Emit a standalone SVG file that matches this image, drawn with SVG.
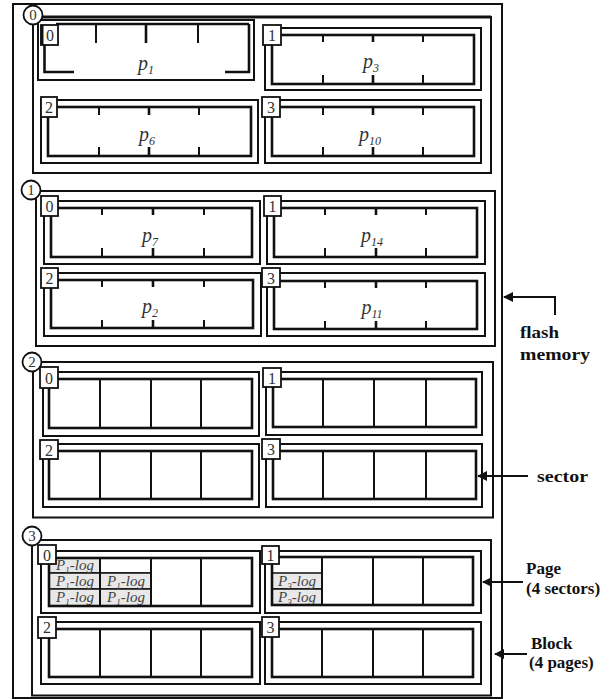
<svg xmlns="http://www.w3.org/2000/svg" width="611" height="699" viewBox="0 0 611 699">
<defs>
<style>
.frm{fill:none;stroke:#111;stroke-width:2}
.blk{fill:none;stroke:#111;stroke-width:2}
.po{fill:none;stroke:#111;stroke-width:2}
.pi{fill:none;stroke:#111;stroke-width:2.6}
.tk{stroke:#111;stroke-width:2}
.tm{stroke:#111;stroke-width:2.6}
.lb{fill:#fff;stroke:#111;stroke-width:1.8}
.cc{fill:#fff;stroke:#111;stroke-width:1.8}
.lt{font-family:'Liberation Serif',serif;font-size:16px;fill:#333;text-anchor:middle}
.ct{font-family:'Liberation Serif',serif;font-size:15px;fill:#333;text-anchor:middle}
.pt{font-family:'Liberation Serif',serif;font-style:italic;font-size:20px;fill:#333;text-anchor:middle}
.sb{font-size:12px}
.log{fill:#e8e8e8;stroke:#111;stroke-width:1.5}
.wc{fill:#fff;stroke:#111;stroke-width:1.5}
.lg{font-family:'Liberation Serif',serif;font-style:italic;font-size:15px;fill:#444;text-anchor:middle}
.ls{font-size:9px}
.rl{font-family:'Liberation Serif',serif;font-weight:bold;font-size:17px;fill:#111}
.ar{stroke:#111;stroke-width:2;fill:none;marker-end:url(#ah)}
</style>
<marker id="ah" markerUnits="userSpaceOnUse" markerWidth="10" markerHeight="10" refX="9" refY="5" orient="auto">
<path d="M0,0 L10,5 L0,10 z" fill="#111"/>
</marker>
</defs>
<rect width="611" height="699" fill="#fff"/>

<g id="flash-memory">
<rect class="frm" x="13" y="4" width="489" height="694"/>
</g>

<!-- Block 0 -->
<g id="block0">
<rect class="blk" x="33" y="17" width="458" height="156"/>
<line x1="33" y1="17" x2="491" y2="17" stroke="#111" stroke-width="3"/>
<g id="b0-page0">
<rect class="po" x="38" y="20" width="216" height="60"/>
<line class="pi" x1="56" y1="24" x2="249" y2="24"/>
<polyline class="pi" points="249,24 249,72 225,72"/>
<polyline class="pi" points="44.5,45 44.5,72 74,72"/>
<line class="tk" x1="96" y1="24" x2="96" y2="43"/>
<line class="tm" x1="146" y1="24" x2="146" y2="43"/>
<line class="tk" x1="198" y1="24" x2="198" y2="43"/>
<rect class="lb" x="41" y="25" width="17" height="20"/>
<line x1="42" y1="25" x2="42" y2="45" stroke="#111" stroke-width="3"/>
<text class="lt" x="50" y="41">0</text>
<text class="pt" x="146" y="70">p<tspan class="sb" dy="4">1</tspan></text>
</g>
<g id="b0-page1">
<rect class="po" x="265" y="28" width="216" height="62"/>
<rect class="pi" x="272" y="35" width="202" height="49"/>
<path class="tk" d="M323,35V42M423,35V42M323,75V84M423,75V84"/>
<path class="tm" d="M373,35V42M373,75V84"/>
<rect class="lb" x="263" y="25" width="18" height="20"/>
<text class="lt" x="272" y="41">1</text>
<text class="pt" x="371" y="68">p<tspan class="sb" dy="4">3</tspan></text>
</g>
<g id="b0-page2">
<rect class="po" x="41" y="100" width="217" height="63"/>
<rect class="pi" x="48" y="107" width="203" height="49"/>
<path class="tk" d="M99,107V115M199,107V115M99,147V156M199,147V156"/>
<path class="tm" d="M149,107V115M149,147V156"/>
<rect class="lb" x="41" y="97" width="16" height="20"/>
<text class="lt" x="49" y="113">2</text>
<text class="pt" x="147" y="141">p<tspan class="sb" dy="4">6</tspan></text>
</g>
<g id="b0-page3">
<rect class="po" x="265" y="100" width="216" height="63"/>
<rect class="pi" x="272" y="107" width="202" height="49"/>
<path class="tk" d="M323,107V115M423,107V115M323,147V156M423,147V156"/>
<path class="tm" d="M373,107V115M373,147V156"/>
<rect class="lb" x="262" y="97" width="18" height="20"/>
<text class="lt" x="271" y="113">3</text>
<text class="pt" x="370" y="141">p<tspan class="sb" dy="4">10</tspan></text>
</g>
<circle class="cc" cx="33" cy="15" r="9.5"/>
<text class="ct" x="33" y="20">0</text>
</g>

<!-- Block 1 -->
<g id="block1">
<rect class="blk" x="36" y="191" width="459" height="155"/>
<g id="b1-page0">
<rect class="po" x="44" y="201" width="216" height="63"/>
<rect class="pi" x="51" y="208" width="201" height="49"/>
<path class="tk" d="M102,208V215M204,208V215M102,248V257M204,248V257"/>
<path class="tm" d="M153,208V215M153,248V257"/>
<rect class="lb" x="41" y="196" width="17" height="20"/>
<text class="lt" x="49.5" y="212">0</text>
<text class="pt" x="150" y="242">p<tspan class="sb" dy="4">7</tspan></text>
</g>
<g id="b1-page1">
<rect class="po" x="267" y="201" width="218" height="63"/>
<rect class="pi" x="274" y="208" width="203" height="49"/>
<path class="tk" d="M325,208V215M426,208V215M325,248V257M426,248V257"/>
<path class="tm" d="M376,208V215M376,248V257"/>
<rect class="lb" x="264" y="196" width="17" height="20"/>
<text class="lt" x="272.5" y="212">1</text>
<text class="pt" x="372" y="242">p<tspan class="sb" dy="4">14</tspan></text>
</g>
<g id="b1-page2">
<rect class="po" x="44" y="273" width="217" height="63"/>
<rect class="pi" x="51" y="280" width="202" height="48"/>
<path class="tk" d="M102,280V287M204,280V287M102,320V328M204,320V328"/>
<path class="tm" d="M153,280V287M153,320V328"/>
<rect class="lb" x="41" y="268" width="17" height="20"/>
<text class="lt" x="49.5" y="284">2</text>
<text class="pt" x="150" y="313">p<tspan class="sb" dy="4">2</tspan></text>
</g>
<g id="b1-page3">
<rect class="po" x="267" y="273" width="218" height="63"/>
<rect class="pi" x="274" y="281" width="203" height="48"/>
<path class="tk" d="M325,281V288M426,281V288M325,321V329M426,321V329"/>
<path class="tm" d="M376,281V288M376,321V329"/>
<rect class="lb" x="262" y="268" width="18" height="19"/>
<text class="lt" x="271" y="284">3</text>
<text class="pt" x="372" y="314">p<tspan class="sb" dy="4">11</tspan></text>
</g>
<circle class="cc" cx="31" cy="190" r="9.5"/>
<text class="ct" x="31" y="195">1</text>
</g>

<!-- Block 2 -->
<g id="block2">
<rect class="blk" x="33" y="362" width="460" height="155.5"/>
<g id="b2-page0">
<rect class="po" x="43" y="372" width="216" height="64"/>
<rect class="pi" x="49" y="379" width="203" height="49"/>
<path class="tk" d="M100,379V428M151,379V428M201,379V428"/>
<rect class="lb" x="40" y="367" width="18" height="21"/>
<text class="lt" x="49" y="384">0</text>
</g>
<g id="b2-page1">
<rect class="po" x="266" y="372" width="216" height="63"/>
<rect class="pi" x="273" y="379" width="203" height="48"/>
<path class="tk" d="M323,379V427M374,379V427M426,379V427"/>
<rect class="lb" x="263" y="368" width="18" height="19"/>
<text class="lt" x="272" y="384">1</text>
</g>
<g id="b2-page2">
<rect class="po" x="43" y="444" width="216" height="63"/>
<rect class="pi" x="49" y="451" width="203" height="48"/>
<path class="tk" d="M100,451V499M151,451V499M201,451V499"/>
<rect class="lb" x="40" y="440" width="18" height="19"/>
<text class="lt" x="49" y="456">2</text>
</g>
<g id="b2-page3">
<rect class="po" x="266" y="444" width="216" height="63"/>
<rect class="pi" x="273" y="451" width="203" height="48"/>
<path class="tk" d="M323,451V499M374,451V499M426,451V499"/>
<rect class="lb" x="262" y="439" width="18" height="20"/>
<text class="lt" x="271" y="455">3</text>
</g>
<circle class="cc" cx="32" cy="362" r="9.5"/>
<text class="ct" x="32" y="367">2</text>
</g>

<!-- Block 3 -->
<g id="block3">
<rect class="blk" x="32" y="540" width="459" height="155.5"/>
<g id="b3-page0">
<rect class="po" x="41" y="551" width="219" height="62"/>
<rect class="log" x="49" y="558" width="51" height="15"/>
<rect class="wc" x="100" y="558" width="51" height="15"/>
<rect class="log" x="49" y="573" width="51" height="16"/>
<rect class="log" x="100" y="573" width="51" height="16"/>
<rect class="log" x="49" y="589" width="51" height="17"/>
<rect class="log" x="100" y="589" width="51" height="17"/>
<text class="lg" x="75" y="570">P<tspan class="ls" dy="3">1</tspan><tspan dy="-3">-log</tspan></text>
<text class="lg" x="75" y="586">P<tspan class="ls" dy="3">1</tspan><tspan dy="-3">-log</tspan></text>
<text class="lg" x="126" y="586">P<tspan class="ls" dy="3">1</tspan><tspan dy="-3">-log</tspan></text>
<text class="lg" x="75" y="602">P<tspan class="ls" dy="3">1</tspan><tspan dy="-3">-log</tspan></text>
<text class="lg" x="126" y="602">P<tspan class="ls" dy="3">1</tspan><tspan dy="-3">-log</tspan></text>
<rect class="pi" x="49" y="558" width="203" height="48"/>
<path class="tk" d="M100,558V606M151,558V606M201,558V606"/>
<rect class="lb" x="38" y="545" width="18" height="19"/>
<text class="lt" x="47" y="561">0</text>
</g>
<g id="b3-page1">
<rect class="po" x="265" y="551" width="216" height="62"/>
<rect class="log" x="272" y="573" width="50" height="16"/>
<rect class="log" x="272" y="589" width="50" height="16"/>
<text class="lg" x="297" y="586">P<tspan class="ls" dy="3">3</tspan><tspan dy="-3">-log</tspan></text>
<text class="lg" x="297" y="602">P<tspan class="ls" dy="3">3</tspan><tspan dy="-3">-log</tspan></text>
<rect class="pi" x="272" y="557" width="201" height="48"/>
<path class="tk" d="M322,557V605M373,557V605M423,557V605"/>
<rect class="lb" x="262" y="546" width="17" height="18"/>
<text class="lt" x="270.5" y="561">1</text>
</g>
<g id="b3-page2">
<rect class="po" x="41" y="622" width="219" height="62"/>
<rect class="pi" x="49" y="629" width="203" height="48"/>
<path class="tk" d="M100,629V677M151,629V677M201,629V677"/>
<rect class="lb" x="38" y="617" width="18" height="21"/>
<text class="lt" x="47" y="633">2</text>
</g>
<g id="b3-page3">
<rect class="po" x="265" y="622" width="216" height="62"/>
<rect class="pi" x="272" y="629" width="201" height="48"/>
<path class="tk" d="M322,629V677M373,629V677M423,629V677"/>
<rect class="lb" x="262" y="617" width="17" height="20"/>
<text class="lt" x="270.5" y="633">3</text>
</g>
<circle class="cc" cx="32" cy="536" r="9.5"/>
<text class="ct" x="32" y="541">3</text>
</g>

<!-- Connectors -->
<g id="connectors">
<path class="ar" d="M555,315V297H504"/>
<path class="ar" d="M528,476H478"/>
<path class="ar" d="M523,582H483"/>
<path class="ar" d="M527,654H495"/>
</g>

<g id="labels">
<text class="rl" x="520" y="338" textLength="39" lengthAdjust="spacingAndGlyphs">flash</text>
<text class="rl" x="520" y="360" textLength="70" lengthAdjust="spacingAndGlyphs">memory</text>
<text class="rl" x="537" y="482" textLength="51" lengthAdjust="spacingAndGlyphs">sector</text>
<text class="rl" x="526" y="574">Page</text>
<text class="rl" x="526" y="594">(4 sectors)</text>
<text class="rl" x="531" y="649">Block</text>
<text class="rl" x="529" y="668">(4 pages)</text>
</g>
</svg>
